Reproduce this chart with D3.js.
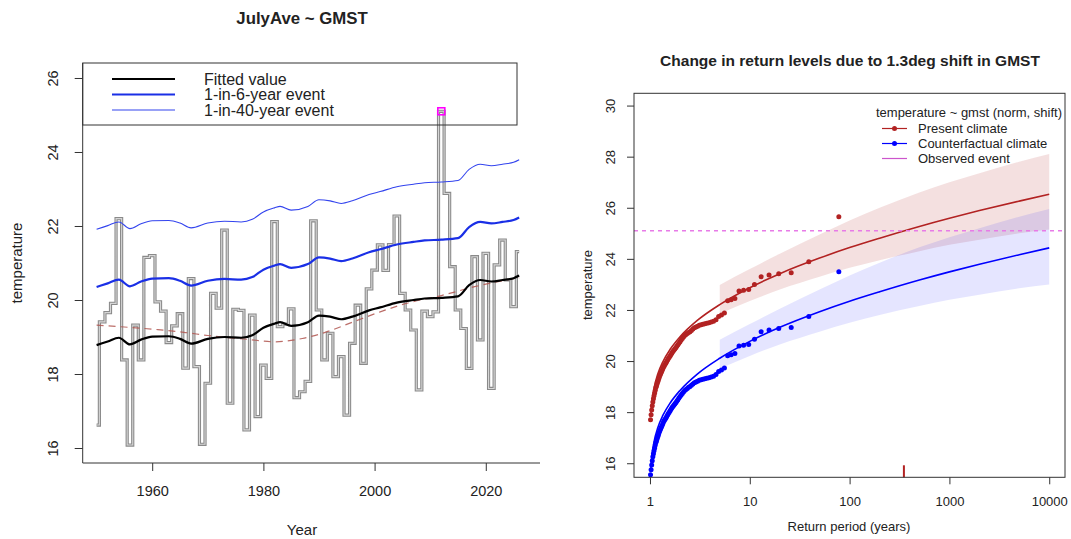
<!DOCTYPE html>
<html>
<head>
<meta charset="utf-8">
<script src="https://cdn.jsdelivr.net/npm/d3@7/dist/d3.min.js"></script>
<style>
  body { margin: 0; background: #fff; }
  svg text { font-family: "Liberation Sans", Arial, Helvetica, sans-serif; fill: #222; }
</style>
</head>
<body>
<svg id="chart" width="1071" height="539"></svg>
<script>
// ---------------- left panel: July average temperature vs year ----------------
const years = d3.range(1950, 2027);
const julyAve = [
  16.62, 19.41, 19.66, 19.91, 22.20, 18.38, 16.08, 19.32, 18.38, 21.15,
  21.20, 19.95, 19.70, 18.85, 19.30, 19.63, 18.16, 20.58, 18.20, 16.10,
  17.75, 20.18, 19.78, 21.89, 17.21, 19.75, 19.72, 16.49, 19.59, 16.85,
  18.24, 17.88, 22.12, 19.28, 19.35, 19.76, 17.36, 17.52, 17.80, 22.14,
  19.73, 18.38, 19.10, 17.93, 18.47, 16.89, 18.83, 19.86, 18.29, 20.30,
  20.81, 21.49, 20.80, 21.50, 22.27, 20.18, 19.73, 19.19, 17.57, 19.70,
  19.55, 19.68, 25.10, 22.88, 20.90, 19.73, 19.23, 18.15, 21.17, 18.92,
  21.26, 17.61, 20.95, 21.62, 20.54, 19.82, 21.31
];
const eventYear = 2012;
const eventValue = 25.1;

// fitted location and effective return levels (shift model), by year
const fitYears = [1950, 1952, 1954, 1956, 1958, 1960, 1963, 1965, 1967, 1970, 1973, 1976,
  1978, 1980, 1982, 1983, 1985, 1988, 1990, 1992, 1994, 1996, 1999, 2001, 2004, 2007,
  2009, 2012, 2015, 2017, 2019, 2021, 2023, 2025, 2026];
const fittedValue = [18.78, 18.88, 18.98, 18.80, 18.93, 19.01, 19.02, 18.95, 18.82, 18.95, 19.00, 18.98,
  19.05, 19.25, 19.36, 19.40, 19.30, 19.40, 19.58, 19.55, 19.48, 19.55, 19.72, 19.80, 19.93, 20.00,
  20.04, 20.06, 20.10, 20.40, 20.54, 20.50, 20.54, 20.59, 20.66];
const rl6 = [20.35, 20.45, 20.55, 20.37, 20.50, 20.58, 20.59, 20.52, 20.39, 20.52, 20.57, 20.55,
  20.62, 20.82, 20.93, 20.97, 20.87, 20.97, 21.15, 21.12, 21.05, 21.12, 21.29, 21.37, 21.50, 21.57,
  21.61, 21.63, 21.67, 21.97, 22.11, 22.07, 22.11, 22.16, 22.23];
const rl40 = [21.91, 22.01, 22.11, 21.93, 22.06, 22.14, 22.15, 22.08, 21.95, 22.08, 22.13, 22.11,
  22.18, 22.38, 22.49, 22.53, 22.43, 22.53, 22.71, 22.68, 22.61, 22.68, 22.85, 22.93, 23.06, 23.13,
  23.17, 23.19, 23.23, 23.53, 23.67, 23.63, 23.67, 23.72, 23.79];

// smooth trend of the observations
const trendYears = [1950, 1955, 1961, 1966, 1970, 1977, 1982, 1987, 1991, 1996, 2001, 2006, 2012, 2018, 2023, 2026];
const trendValues = [19.32, 19.27, 19.20, 19.12, 19.04, 18.94, 18.87, 18.96, 19.12, 19.40, 19.68, 19.92, 20.12, 20.36, 20.52, 20.60];

const leftYTicks = [16, 18, 20, 22, 24, 26];
const leftXTicks = [1960, 1980, 2000, 2020];
const leftLegend = ["Fitted value", "1-in-6-year event", "1-in-40-year event"];

// ---------------- right panel: return level plot ----------------
// empirical return levels, largest first (present climate)
const presentPoints = [
  25.65, 23.89, 23.46, 23.42, 23.37, 23.30, 23.00, 22.80, 22.77, 22.74,
  22.45, 22.40, 22.36, 21.88, 21.80, 21.74, 21.62, 21.56, 21.53, 21.50,
  21.48, 21.46, 21.44, 21.42, 21.40, 21.36, 21.33, 21.30, 21.25, 21.20,
  21.15, 21.12, 21.08, 21.04, 21.00, 20.94, 20.88, 20.82, 20.76, 20.70,
  20.64, 20.58, 20.52, 20.47, 20.42, 20.37, 20.32, 20.26, 20.20, 20.15,
  20.10, 20.04, 19.98, 19.92, 19.87, 19.82, 19.77, 19.70, 19.63, 19.56,
  19.50, 19.43, 19.36, 19.28, 19.20, 19.12, 19.03, 18.96, 18.86, 18.75,
  18.64, 18.52, 18.40, 18.25, 18.08, 17.90, 17.70
];
const counterfactualPoints = [
  23.50, 21.74, 21.31, 21.27, 21.22, 21.15, 20.85, 20.65, 20.62, 20.59,
  20.30, 20.25, 20.21, 19.73, 19.65, 19.59, 19.47, 19.41, 19.38, 19.35,
  19.33, 19.31, 19.29, 19.27, 19.25, 19.21, 19.18, 19.15, 19.10, 19.05,
  19.00, 18.97, 18.93, 18.89, 18.85, 18.79, 18.73, 18.67, 18.61, 18.55,
  18.49, 18.43, 18.37, 18.32, 18.27, 18.22, 18.17, 18.11, 18.05, 18.00,
  17.95, 17.89, 17.83, 17.77, 17.72, 17.67, 17.62, 17.55, 17.48, 17.41,
  17.35, 17.28, 17.21, 17.13, 17.05, 16.97, 16.88, 16.81, 16.71, 16.60,
  16.49, 16.37, 16.25, 16.10, 15.93, 15.75, 15.55
];

// fitted return level curves
const rlPeriods = [1.02, 1.05, 1.1, 1.2, 1.35, 1.6, 2, 3, 5, 10, 20, 50, 100, 200, 500, 1000, 2000, 5000, 10000];
const presentCurve = [17.86, 18.45, 18.95, 19.50, 19.98, 20.47, 20.95, 21.60, 22.21, 22.87, 23.42, 24.03, 24.44, 24.81, 25.27, 25.59, 25.89, 26.26, 26.53];
const counterfactualCurve = [15.76, 16.35, 16.85, 17.40, 17.88, 18.37, 18.85, 19.50, 20.11, 20.77, 21.32, 21.93, 22.34, 22.71, 23.17, 23.49, 23.79, 24.16, 24.43];

// confidence bands
const bandPeriods = [5, 10, 20, 50, 100, 200, 500, 1000, 2000, 5000, 10000];
const presentLower = [21.85, 22.35, 22.80, 23.30, 23.65, 23.95, 24.30, 24.55, 24.75, 25.00, 25.15];
const presentUpper = [22.98, 23.60, 24.20, 24.95, 25.50, 26.00, 26.60, 27.00, 27.35, 27.80, 28.10];
const cfLower = [19.70, 20.20, 20.65, 21.15, 21.50, 21.80, 22.15, 22.40, 22.60, 22.85, 23.00];
const cfUpper = [20.83, 21.45, 22.05, 22.80, 23.35, 23.85, 24.45, 24.85, 25.20, 25.65, 25.95];

const eventReturnPeriod = 350;
const rightYTicks = [16, 18, 20, 22, 24, 26, 28, 30];
const rightXTicks = [1, 10, 100, 1000, 10000];
const rightLegend = ["Present climate", "Counterfactual climate", "Observed event"];

// ---------------- drawing ----------------
const svg = d3.select("#chart");
const AXIS = "#333";
const RED = "#b22222";
const BLUE = "#0000ff";
const MAGENTA = "#ff00ff";

// ===== left panel =====
const L = { left: 82.7, right: 540, top: 63, bottom: 463 };
const xL = d3.scaleLinear().domain([1947.5, 2029.75]).range([L.left, L.right]);
const yL = d3.scaleLinear().domain([15.595, 26.405]).range([L.bottom, L.top]);

const gL = svg.append("g");

// observations as a step line
const obs = years.map((y, i) => ({ year: y, v: julyAve[i] }));
const stepLine = d3.line().x(d => xL(d.year)).y(d => yL(d.v)).curve(d3.curveStep);
gL.append("path").datum(obs).attr("d", stepLine)
  .attr("fill", "none").attr("stroke", "#8a8a8a").attr("stroke-width", 3.2);
gL.append("path").datum(obs).attr("d", stepLine)
  .attr("fill", "none").attr("stroke", "#d6d6d6").attr("stroke-width", 1.1);

// trend (dashed)
const trendLine = d3.line().x((d, i) => xL(trendYears[i])).y(d => yL(d)).curve(d3.curveMonotoneX);
gL.append("path").datum(trendValues).attr("d", trendLine)
  .attr("fill", "none").attr("stroke", "#b0554f").attr("stroke-width", 1.2)
  .attr("stroke-dasharray", "7,5").attr("opacity", 0.85);

// fitted and return-level lines
const fitLine = d3.line().x((d, i) => xL(fitYears[i])).y(d => yL(d)).curve(d3.curveMonotoneX);
gL.append("path").datum(rl40).attr("d", fitLine)
  .attr("fill", "none").attr("stroke", "#3344ee").attr("stroke-width", 1.1);
gL.append("path").datum(rl6).attr("d", fitLine)
  .attr("fill", "none").attr("stroke", "#1a2fe6").attr("stroke-width", 2.2);
gL.append("path").datum(fittedValue).attr("d", fitLine)
  .attr("fill", "none").attr("stroke", "#000").attr("stroke-width", 2.2);

// axes (L-shaped box)
const axL = gL.append("g").attr("transform", `translate(${L.left},0)`)
  .call(d3.axisLeft(yL).tickValues(leftYTicks).tickSize(8).tickSizeOuter(0).tickFormat(d3.format("d")));
axL.select(".domain").attr("stroke", AXIS).attr("d", `M0,${L.top}V${L.bottom}`);
axL.selectAll(".tick line").attr("stroke", AXIS);
axL.selectAll(".tick text")
  .attr("transform", "rotate(-90)").attr("x", 0).attr("y", -25).attr("dy", 0)
  .attr("text-anchor", "middle").style("font-size", "14.5px").attr("fill", "#222");

const axB = gL.append("g").attr("transform", `translate(0,${L.bottom})`)
  .call(d3.axisBottom(xL).tickValues(leftXTicks).tickSize(8).tickSizeOuter(0).tickFormat(d3.format("d")));
axB.select(".domain").attr("stroke", AXIS).attr("d", `M${L.left},0H${L.right}`);
axB.selectAll(".tick line").attr("stroke", AXIS);
axB.selectAll(".tick text").attr("y", 23).style("font-size", "14.5px").attr("fill", "#222");

gL.append("text").attr("x", 302).attr("y", 535).attr("text-anchor", "middle")
  .style("font-size", "15px").text("Year");
gL.append("text").attr("transform", "translate(22,263) rotate(-90)").attr("text-anchor", "middle")
  .style("font-size", "15px").text("temperature");
gL.append("text").attr("x", 302).attr("y", 24).attr("text-anchor", "middle")
  .style("font-size", "16.8px").style("font-weight", "bold").text("JulyAve ~ GMST");

// legend (transparent box)
gL.append("rect").attr("x", L.left).attr("y", L.top).attr("width", 517 - L.left).attr("height", 62)
  .attr("fill", "none").attr("stroke", AXIS).attr("stroke-width", 1);
const legStyles = [
  { color: "#000", width: 2.2 },
  { color: "#1a2fe6", width: 2.2 },
  { color: "#3344ee", width: 1.1 }
];
leftLegend.forEach((label, i) => {
  const cy = 79 + i * 15.5;
  gL.append("line").attr("x1", 112).attr("x2", 175).attr("y1", cy).attr("y2", cy)
    .attr("stroke", legStyles[i].color).attr("stroke-width", legStyles[i].width);
  gL.append("text").attr("x", 204).attr("y", cy + 5.5).style("font-size", "16px").text(label);
});

// observed event marker
gL.append("rect")
  .attr("x", xL(eventYear) - 3.5).attr("y", yL(eventValue) - 3.5)
  .attr("width", 7).attr("height", 7)
  .attr("fill", "none").attr("stroke", MAGENTA).attr("stroke-width", 1.6);

// ===== right panel =====
const R = { left: 634, right: 1065, top: 93.3, bottom: 477.3 };
const xR = d3.scaleLog().domain([Math.pow(10, -0.16), Math.pow(10, 4.158)]).range([R.left, R.right]);
const yR = d3.scaleLinear().domain([15.45, 30.48]).range([R.bottom, R.top]);

const gR = svg.append("g");
gR.append("clipPath").attr("id", "clipR").append("rect")
  .attr("x", R.left).attr("y", R.top).attr("width", R.right - R.left).attr("height", R.bottom - R.top);
const plotR = gR.append("g").attr("clip-path", "url(#clipR)");

const bandArea = (lo, hi) => d3.area()
  .x((d, i) => xR(bandPeriods[i]))
  .y0((d, i) => yR(lo[i])).y1((d, i) => yR(hi[i]))
  .curve(d3.curveMonotoneX)(bandPeriods);

plotR.append("path").attr("d", bandArea(presentLower, presentUpper))
  .attr("fill", RED).attr("fill-opacity", 0.14).attr("stroke", "none");
plotR.append("path").attr("d", bandArea(cfLower, cfUpper))
  .attr("fill", BLUE).attr("fill-opacity", 0.1).attr("stroke", "none");

const rlLine = d3.line().x((d, i) => xR(rlPeriods[i])).y(d => yR(d)).curve(d3.curveMonotoneX);
plotR.append("path").datum(presentCurve).attr("d", rlLine)
  .attr("fill", "none").attr("stroke", RED).attr("stroke-width", 1.6);
plotR.append("path").datum(counterfactualCurve).attr("d", rlLine)
  .attr("fill", "none").attr("stroke", BLUE).attr("stroke-width", 1.6);

// empirical points: plotting position (n+1)/rank
const nObs = presentPoints.length;
plotR.selectAll("circle.pres").data(presentPoints).join("circle")
  .attr("class", "pres")
  .attr("cx", (d, i) => xR((nObs + 1) / (i + 1))).attr("cy", d => yR(d))
  .attr("r", 2.5).attr("fill", RED);
plotR.selectAll("circle.cf").data(counterfactualPoints).join("circle")
  .attr("class", "cf")
  .attr("cx", (d, i) => xR((nObs + 1) / (i + 1))).attr("cy", d => yR(d))
  .attr("r", 2.5).attr("fill", BLUE);

// observed event level
plotR.append("line").attr("x1", R.left).attr("x2", R.right)
  .attr("y1", yR(eventValue)).attr("y2", yR(eventValue))
  .attr("stroke", "#e77be7").attr("stroke-width", 1.3).attr("stroke-dasharray", "4,4");

// return period of the event
gR.append("line").attr("x1", xR(eventReturnPeriod)).attr("x2", xR(eventReturnPeriod))
  .attr("y1", R.bottom - 12).attr("y2", R.bottom)
  .attr("stroke", RED).attr("stroke-width", 2);

// box and axes
gR.append("rect").attr("x", R.left).attr("y", R.top)
  .attr("width", R.right - R.left).attr("height", R.bottom - R.top)
  .attr("fill", "none").attr("stroke", AXIS).attr("stroke-width", 1);

const ayR = gR.append("g").attr("transform", `translate(${R.left},0)`)
  .call(d3.axisLeft(yR).tickValues(rightYTicks).tickSize(7).tickSizeOuter(0).tickFormat(d3.format("d")));
ayR.select(".domain").remove();
ayR.selectAll(".tick line").attr("stroke", AXIS);
ayR.selectAll(".tick text")
  .attr("transform", "rotate(-90)").attr("x", 0).attr("y", -19.5).attr("dy", 0)
  .attr("text-anchor", "middle").style("font-size", "13px").attr("fill", "#222");

const axR = gR.append("g").attr("transform", `translate(0,${R.bottom})`)
  .call(d3.axisBottom(xR).tickValues(rightXTicks).tickSize(7).tickSizeOuter(0).tickFormat(d3.format("d")));
axR.select(".domain").remove();
axR.selectAll(".tick line").attr("stroke", AXIS);
axR.selectAll(".tick text").attr("y", 19).style("font-size", "13px").attr("fill", "#222");

gR.append("text").attr("x", 849).attr("y", 531).attr("text-anchor", "middle")
  .style("font-size", "13px").text("Return period (years)");
gR.append("text").attr("transform", "translate(592,285) rotate(-90)").attr("text-anchor", "middle")
  .style("font-size", "13px").text("temperature");
gR.append("text").attr("x", 850).attr("y", 66).attr("text-anchor", "middle")
  .style("font-size", "15.5px").style("font-weight", "bold")
  .text("Change in return levels due to 1.3deg shift in GMST");

// legend
gR.append("text").attr("x", 1062).attr("y", 117).attr("text-anchor", "end")
  .style("font-size", "13px").text("temperature ~ gmst (norm, shift)");
const rlegColors = [RED, BLUE, "#cc55cc"];
rightLegend.forEach((label, i) => {
  const cy = 128.5 + i * 15;
  gR.append("line").attr("x1", 882).attr("x2", 907).attr("y1", cy).attr("y2", cy)
    .attr("stroke", rlegColors[i]).attr("stroke-width", 1.2);
  if (i < 2) {
    gR.append("circle").attr("cx", 894.5).attr("cy", cy).attr("r", 2.5).attr("fill", rlegColors[i]);
  }
  gR.append("text").attr("x", 918).attr("y", cy + 4.6).style("font-size", "13px").text(label);
});
</script>
</body>
</html>
